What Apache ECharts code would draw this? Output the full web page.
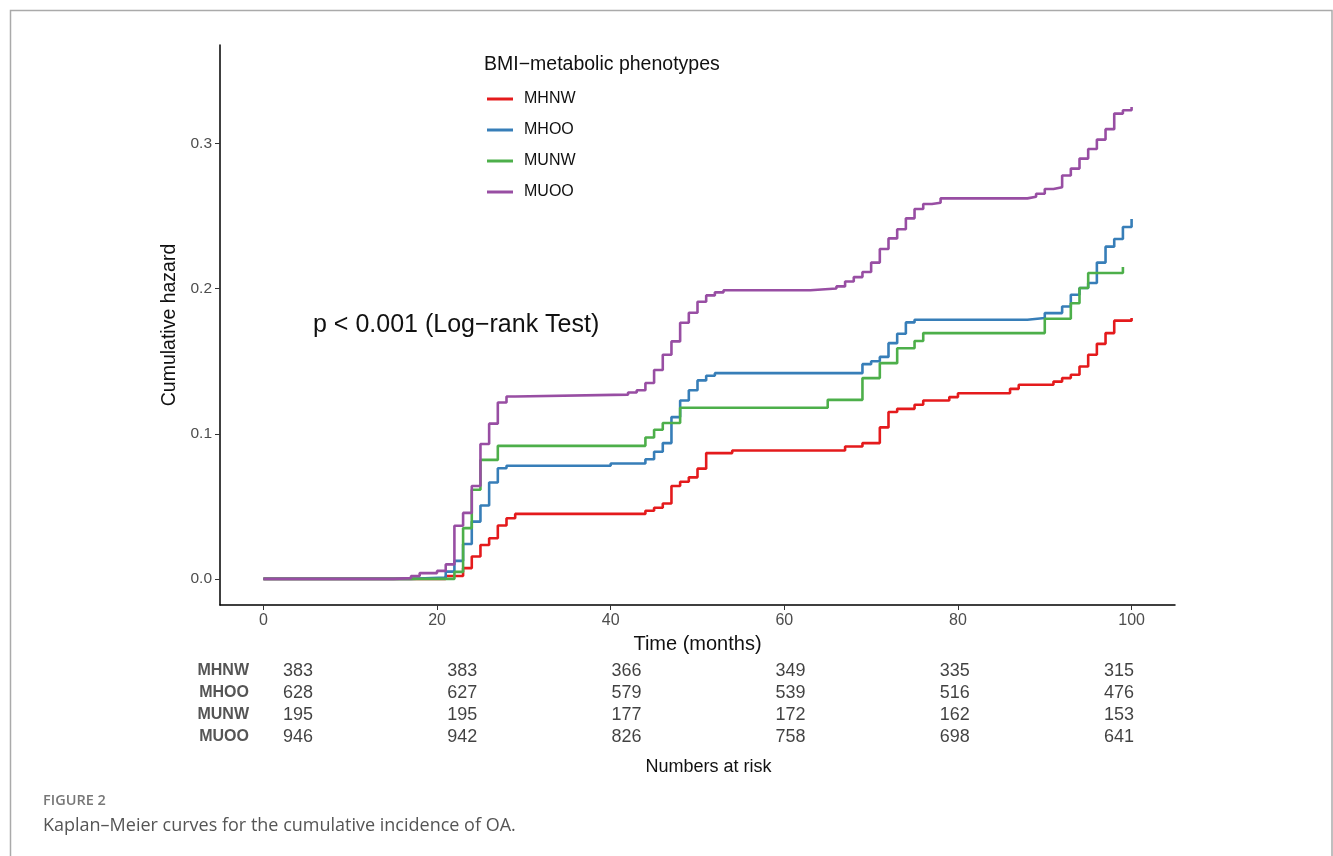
<!DOCTYPE html>
<html>
<head>
<meta charset="utf-8">
<script src="https://cdn.jsdelivr.net/npm/echarts@6/dist/echarts.min.js"></script>
<style>
html,body{margin:0;padding:0;background:#fff;}
#chart{width:1333px;height:856px;}
</style>
</head>
<body>
<div id="chart"></div>
<script>
// ---- data ----
const groups = ['MHNW', 'MHOO', 'MUNW', 'MUOO'];
const colors = ['#E41A1C', '#377EB8', '#4DAF4A', '#984EA3'];
const xTicks = [0, 20, 40, 60, 80, 100];
const yTicks = [0, 0.1, 0.2, 0.3];

const mhnw = [[0,0],[21,0.002],[23,0.0074],[24,0.0154],[25,0.0234],[26,0.028],[27,0.0368],[28,0.0418],[29,0.0448],[44,0.047],[45,0.049],[46,0.052],[47,0.064],[48,0.067],[49,0.070],[50,0.076],[51,0.0867],[54,0.0885],[67,0.0913],[69,0.0936],[71,0.1044],[72,0.115],[73,0.1172],[75,0.12],[76,0.123],[79,0.1253],[80,0.128],[86,0.131],[87,0.1338],[91,0.136],[92,0.1384],[93,0.1407],[94,0.1464],[95,0.1545],[96,0.162],[97,0.1694],[98,0.178],[100,0.1798]];
const mhoo = [[0,0],[17,0.001],[21,0.005],[22,0.0124],[23,0.024],[24,0.0395],[25,0.0506],[26,0.0664],[27,0.0763],[28,0.078],[40,0.0795],[44,0.0825],[45,0.0876],[46,0.0936],[47,0.1115],[48,0.123],[49,0.130],[50,0.1368],[51,0.140],[52,0.1418],[69,0.148],[70,0.150],[71,0.153],[72,0.1625],[73,0.169],[74,0.1768],[75,0.1786],[88,0.1798],[90,0.1832],[92,0.1878],[93,0.1959],[94,0.2005],[95,0.204],[96,0.218],[97,0.229],[98,0.2343],[99,0.2425],[100,0.248]];
const munw = [[0,0],[22,0.0048],[23,0.035],[24,0.0614],[25,0.082],[27,0.0917],[44,0.0975],[45,0.1028],[46,0.1074],[48,0.118],[65,0.1234],[69,0.1384],[71,0.1487],[73,0.159],[75,0.164],[76,0.1694],[90,0.1793],[93,0.190],[94,0.2005],[95,0.2108],[99,0.215]];
const muoo = [[0,0],[15,0.0005],[17,0.002],[18,0.004],[20,0.0055],[21,0.010],[22,0.0366],[23,0.0455],[24,0.064],[25,0.093],[26,0.107],[27,0.1216],[28,0.1257],[29,0.127],[42,0.1285],[43,0.130],[44,0.135],[45,0.144],[46,0.1545],[47,0.1637],[48,0.1766],[49,0.1834],[50,0.191],[51,0.1954],[52,0.1975],[53,0.199],[63,0.2002],[66,0.2016],[67,0.205],[68,0.208],[69,0.2115],[70,0.218],[71,0.2274],[72,0.2347],[73,0.241],[74,0.2485],[75,0.255],[76,0.2584],[77,0.2593],[78,0.2623],[88,0.2634],[89,0.2655],[90,0.2687],[91,0.270],[92,0.278],[93,0.2828],[94,0.2897],[95,0.2963],[96,0.3028],[97,0.310],[98,0.3207],[99,0.323],[100,0.3253]];
const curves = [mhnw, mhoo, munw, muoo];

const riskTimes = [0, 20, 40, 60, 80, 100];
const riskMHNW = [383, 383, 366, 349, 335, 315];
const riskMHOO = [628, 627, 579, 539, 516, 476];
const riskMUNW = [195, 195, 177, 172, 162, 153];
const riskMUOO = [946, 942, 826, 758, 698, 641];
const riskRows = [riskMHNW, riskMHOO, riskMUNW, riskMUOO];

// ---- chart ----
const chart = echarts.init(document.getElementById('chart'));
const FONT = '"Liberation Sans", Arial, sans-serif';
const CAPFONT = '"Open Sans", "Noto Sans", sans-serif';
const axisGray = '#4d4d4d';

const series = [];
curves.forEach((c, i) => {
  series.push({
    name: groups[i], type: 'line', step: 'end', data: c,
    xAxisIndex: 0, yAxisIndex: 0,
    showSymbol: false, symbol: 'none',
    lineStyle: { color: colors[i], width: 2.6 },
    itemStyle: { color: colors[i] },
    animation: false, z: 2 + i
  });
});
riskRows.forEach((row, i) => {
  series.push({
    type: 'scatter', xAxisIndex: 1, yAxisIndex: 1,
    symbolSize: 0, silent: true, animation: false,
    data: riskTimes.map((t, j) => [t, groups[i], row[j]]),
    label: {
      show: true, position: 'inside', formatter: p => String(p.data[2]),
      color: '#111', fontSize: 18, fontFamily: FONT
    }
  });
});

chart.setOption({
  animation: false,
  textStyle: { fontFamily: FONT },
  title: {
    text: 'BMI\u2212metabolic phenotypes', left: 479, top: 50,
    textStyle: { fontSize: 19.5, fontWeight: 'normal', color: '#111', fontFamily: FONT }
  },
  legend: {
    data: groups, orient: 'vertical', left: 482, top: 86,
    itemWidth: 26, itemHeight: 3, icon: 'rect', itemGap: 15,
    textStyle: { fontSize: 16, color: '#111', fontFamily: FONT, padding: [0, 0, 0, 6] }
  },
  grid: [
    { left: 220, right: 158, top: 45, bottom: 251 },
    { left: 298, right: 214, top: 660, bottom: 108 }
  ],
  xAxis: [
    {
      gridIndex: 0, type: 'value', min: -5, max: 105,
      name: 'Time (months)', nameLocation: 'middle', nameGap: 29,
      nameTextStyle: { fontSize: 20, color: '#111', fontFamily: FONT },
      axisLine: { onZero: false, lineStyle: { color: '#000', width: 1.5 } },
      axisTick: { show: true, customValues: xTicks, length: 5, lineStyle: { color: '#333' } },
      axisLabel: { customValues: xTicks, color: axisGray, fontSize: 16, margin: 8, fontFamily: FONT },
      splitLine: { show: false }
    },
    {
      gridIndex: 1, type: 'value', min: 0, max: 100,
      name: 'Numbers at risk', nameLocation: 'middle', nameGap: 10,
      nameTextStyle: { fontSize: 18, color: '#111', fontFamily: FONT },
      axisLine: { show: false }, axisTick: { show: false }, axisLabel: { show: false },
      splitLine: { show: false }
    }
  ],
  yAxis: [
    {
      gridIndex: 0, type: 'value', min: -0.018, max: 0.368,
      name: 'Cumulative hazard', nameLocation: 'middle', nameGap: 37, nameRotate: 90,
      nameTextStyle: { fontSize: 19.5, color: '#111', fontFamily: FONT },
      axisLine: { show: true, onZero: false, lineStyle: { color: '#000', width: 1.5 } },
      axisTick: { show: true, customValues: yTicks, length: 5, lineStyle: { color: '#333' } },
      axisLabel: { customValues: yTicks, color: axisGray, fontSize: 15.5, margin: 8, fontFamily: FONT,
        formatter: v => v.toFixed(1) },
      splitLine: { show: false }
    },
    {
      gridIndex: 1, type: 'category', data: groups, inverse: true,
      axisLine: { show: false }, axisTick: { show: false },
      axisLabel: { color: '#555', fontSize: 16, fontWeight: 'bold', margin: 49, fontFamily: FONT },
      splitLine: { show: false }
    }
  ],
  graphic: [
    { type: 'polyline', shape: { points: [[10.5, 856], [10.5, 10.5], [1332, 10.5], [1332, 856]] },
      style: { stroke: '#aaaaaa', lineWidth: 1.5, fill: null }, silent: true },
    { type: 'text', left: 313, top: 313,
      style: { text: 'p < 0.001 (Log\u2212rank Test)', fontSize: 25, fill: '#111', fontFamily: FONT } },
    { type: 'text', left: 43, top: 793,
      style: { text: 'FIGURE 2', fontSize: 14.5, fill: '#777', fontWeight: 600, fontFamily: CAPFONT } },
    { type: 'text', left: 43, top: 817,
      style: { text: 'Kaplan\u2013Meier curves for the cumulative incidence of OA.', fontSize: 18, fill: '#555', fontFamily: CAPFONT } }
  ],
  series: series
});
</script>
</body>
</html>
